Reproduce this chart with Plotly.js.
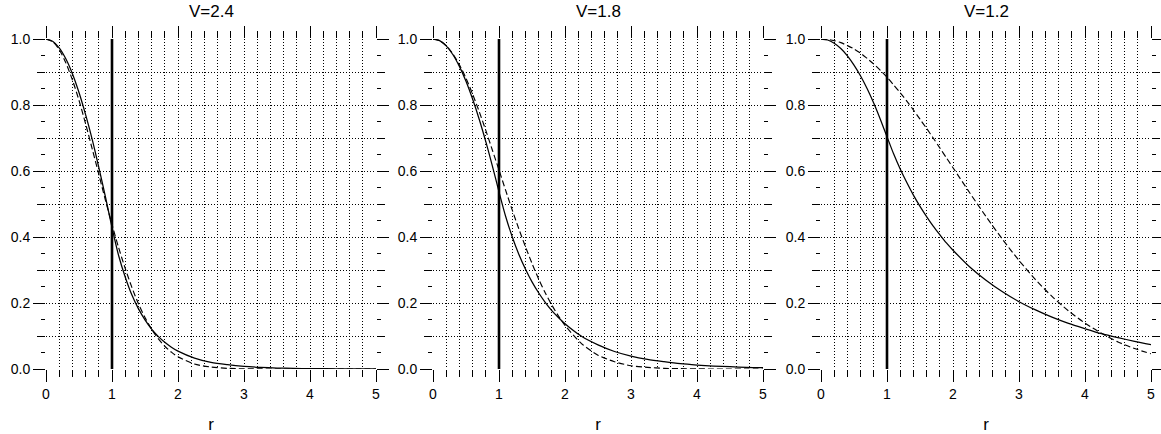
<!DOCTYPE html>
<html>
<head>
<meta charset="utf-8">
<script src="https://cdn.plot.ly/plotly-3.0.1.min.js"></script>
<style>
  html, body { margin: 0; padding: 0; background: #fff; }
  #chart { width: 1161px; height: 434px; }
</style>
</head>
<body>
<div id="chart"></div>
<script>
// ---- data ----
const panelTitles = ['V=2.4', 'V=1.8', 'V=1.2'];
const axisTitle = 'r';

// radial coordinate (shared by all curves)
const r = [0, 0.1, 0.2, 0.3, 0.4, 0.5, 0.6, 0.7, 0.8, 0.9, 1.0,
           1.1, 1.2, 1.3, 1.4, 1.5, 1.6, 1.7, 1.8, 1.9, 2.0,
           2.25, 2.5, 2.75, 3.0, 3.25, 3.5, 3.75, 4.0, 4.25, 4.5, 4.75, 5.0];

// V = 2.4 : exact field (solid) and Gaussian approximation (dashed)
const exactV24 = [1, 0.993, 0.973, 0.940, 0.895, 0.838, 0.771, 0.696, 0.611, 0.522, 0.429,
                  0.344, 0.279, 0.225, 0.183, 0.149, 0.121, 0.099, 0.081, 0.066, 0.054,
                  0.033, 0.020, 0.013, 0.008, 0.005, 0.003, 0.002, 0.001, 0.001, 0.0005, 0.0003, 0.0002];
const gaussV24 = [1, 0.992, 0.968, 0.928, 0.876, 0.814, 0.743, 0.667, 0.590, 0.512, 0.438,
                  0.368, 0.305, 0.248, 0.198, 0.156, 0.121, 0.092, 0.069, 0.051, 0.037,
                  0.015, 0.006, 0.002, 0.0006, 0.0002, 0, 0, 0, 0, 0, 0, 0];

// V = 1.8
const exactV18 = [1, 0.995, 0.979, 0.953, 0.917, 0.872, 0.818, 0.757, 0.689, 0.615, 0.537,
                  0.463, 0.401, 0.348, 0.303, 0.264, 0.231, 0.202, 0.177, 0.156, 0.137,
                  0.099, 0.073, 0.053, 0.039, 0.029, 0.022, 0.016, 0.012, 0.009, 0.007, 0.005, 0.004];
const gaussV18 = [1, 0.995, 0.980, 0.955, 0.922, 0.881, 0.833, 0.780, 0.723, 0.663, 0.603,
                  0.542, 0.482, 0.425, 0.371, 0.320, 0.273, 0.231, 0.194, 0.161, 0.132,
                  0.077, 0.042, 0.022, 0.010, 0.005, 0.002, 0.001, 0.0003, 0.0001, 0, 0, 0];

// V = 1.2
const exactV12 = [1, 0.997, 0.987, 0.971, 0.949, 0.921, 0.888, 0.849, 0.805, 0.756, 0.704,
                  0.652, 0.606, 0.565, 0.527, 0.493, 0.462, 0.433, 0.407, 0.382, 0.360,
                  0.310, 0.269, 0.234, 0.204, 0.179, 0.157, 0.138, 0.122, 0.107, 0.095, 0.084, 0.074];
const gaussV12 = [1, 0.999, 0.995, 0.989, 0.980, 0.970, 0.957, 0.941, 0.924, 0.905, 0.884,
                  0.861, 0.837, 0.812, 0.785, 0.757, 0.729, 0.700, 0.670, 0.640, 0.610,
                  0.535, 0.462, 0.393, 0.329, 0.271, 0.220, 0.176, 0.139, 0.108, 0.082, 0.062, 0.046];

// core boundary marker (r = 1)
const coreEdgeR = [1, 1];
const coreEdgeY = [0, 1];

// axis ranges
const xRange = [0, 5];
const yRange = [0, 1];

// ---- build figure ----
const exactSets = [exactV24, exactV18, exactV12];
const gaussSets = [gaussV24, gaussV18, gaussV12];

const FONT = 'Liberation Sans, Arial, Helvetica, sans-serif';
const INK = '#000';
const DOT = '1px,2px';

const domains = [
  [46 / 1161, 376 / 1161],
  [433 / 1161, 763 / 1161],
  [821 / 1161, 1151 / 1161]
];

const traces = [];
const layout = {
  width: 1161, height: 434,
  margin: { l: 0, r: 0, t: 39, b: 65 },
  paper_bgcolor: '#fff', plot_bgcolor: '#fff',
  showlegend: false,
  font: { family: FONT, color: INK, size: 14 },
  annotations: []
};

for (let i = 0; i < 3; i++) {
  const sx = i === 0 ? '' : String(i + 1);
  const xName = 'x' + sx, yName = 'y' + sx;
  const oy = 'y' + (i + 4);

  traces.push({
    x: r, y: gaussSets[i], xaxis: xName, yaxis: yName, mode: 'lines',
    line: { color: INK, width: 1.15, dash: '6px,3px', shape: 'spline', smoothing: 0.8 },
    hoverinfo: 'skip'
  });
  traces.push({
    x: r, y: exactSets[i], xaxis: xName, yaxis: yName, mode: 'lines',
    line: { color: INK, width: 1.25, shape: 'spline', smoothing: 0.8 },
    hoverinfo: 'skip'
  });
  traces.push({
    x: coreEdgeR, y: coreEdgeY, xaxis: xName, yaxis: oy, mode: 'lines',
    line: { color: INK, width: 2.6 }, hoverinfo: 'skip'
  });

  layout['xaxis' + sx] = {
    domain: domains[i], anchor: yName, range: xRange,
    tick0: 0, dtick: 1, ticks: 'outside', ticklen: 12, tickwidth: 1, tickcolor: INK,
    mirror: 'ticks', showline: false, zeroline: false,
    showgrid: true, gridcolor: INK, gridwidth: 1, griddash: DOT,
    tickfont: { family: FONT, size: 14, color: INK },
    minor: { tick0: 0, dtick: 0.2, ticks: 'outside', ticklen: 7, tickwidth: 1, tickcolor: INK,
             showgrid: true, gridcolor: INK, gridwidth: 1, griddash: DOT },
    title: { text: axisTitle, font: { family: FONT, size: 17, color: INK } },
    fixedrange: true
  };
  layout['yaxis' + sx] = {
    domain: [0, 1], anchor: xName, range: yRange,
    tick0: 0, dtick: 0.2, tickformat: '.1f', ticks: 'outside', ticklen: 12, tickwidth: 1, tickcolor: INK,
    mirror: 'ticks', showline: false, zeroline: false,
    showgrid: true, gridcolor: INK, gridwidth: 1, griddash: DOT,
    tickfont: { family: FONT, size: 14, color: INK },
    minor: { tick0: 0, dtick: 0.1, ticks: 'outside', ticklen: 8, tickwidth: 1, tickcolor: INK,
             showgrid: true, gridcolor: INK, gridwidth: 1, griddash: DOT },
    fixedrange: true
  };
  layout['yaxis' + (i + 4)] = {
    overlaying: yName, anchor: xName, side: 'left', range: yRange,
    tick0: 0, dtick: 0.05, ticks: 'outside', ticklen: 4, tickwidth: 1, tickcolor: INK,
    mirror: 'ticks', showline: false, zeroline: false, showgrid: false,
    showticklabels: false, fixedrange: true
  };

  layout.annotations.push({
    text: panelTitles[i], showarrow: false,
    xref: xName + ' domain', x: 0.5, xanchor: 'center',
    yref: 'paper', y: 1.083, yanchor: 'middle',
    font: { family: FONT, size: 17, color: INK }
  });
}

Plotly.newPlot('chart', traces, layout, { staticPlot: true, displayModeBar: false });
</script>
</body>
</html>
